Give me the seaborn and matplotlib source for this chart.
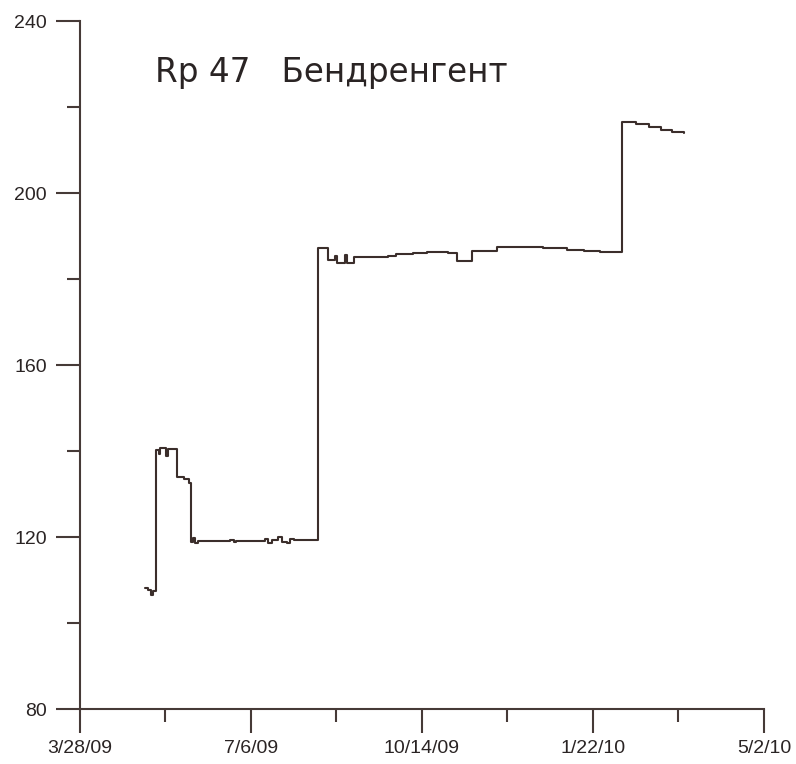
import matplotlib
matplotlib.use("Agg")
import matplotlib.pyplot as plt
import matplotlib.dates as mdates
import seaborn as sns
import pandas as pd
from matplotlib.ticker import FixedLocator

# ---- data ----
start_date = "2009-03-28"
day_offsets = [38, 40, 41.5, 42.5, 44.5, 46, 47, 50.5, 51.5, 57, 61, 64,
               65, 66, 67, 69, 88, 90, 91, 108, 110, 112, 116, 118, 121, 123, 125, 128,
               139, 145, 149, 150.5, 155, 156, 160, 180, 185, 195, 203, 215, 220.5,
               229, 233, 244, 271, 285, 295, 304,
               317, 325, 333, 340, 346, 353]
values = [108.2, 107.6, 106.6, 107.4, 140.2, 139.2, 140.6, 138.8, 140.4, 134.0, 133.4, 132.6,
          118.8, 119.8, 118.6, 119.0, 119.4, 118.8, 119.0, 119.6, 118.6, 119.2, 120.0, 118.8,
          118.6, 119.6, 119.2, 119.4,
          187.2, 184.4, 185.4, 183.8, 185.6, 183.8, 185.1, 185.3, 185.8, 186.0, 186.3, 186.1, 184.2,
          186.5, 186.6, 187.4, 187.2, 186.8, 186.5, 186.3,
          216.4, 216.0, 215.4, 214.7, 214.3, 214.0]
major_tick_offsets = [0, 100, 200, 300, 400]
minor_tick_offsets = [50, 150, 250, 350]
x_tick_labels = ["3/28/09", "7/6/09", "10/14/09", "1/22/10", "5/2/10"]
y_ticks = [80, 120, 160, 200, 240]
y_minor_ticks = [100, 140, 180, 220]
title_text = "Rp 47   Бендренгент"

base = pd.Timestamp(start_date)
df = pd.DataFrame({
    "date": base + pd.to_timedelta(day_offsets, unit="D"),
    "value": values,
})

sns.set_theme(style="ticks")
plt.rcParams["font.family"] = ["Liberation Sans", "DejaVu Sans"]

fig = plt.figure(figsize=(7.96, 7.64), dpi=100)
ax = fig.add_axes([80 / 796, 55 / 764, 684 / 796, 688 / 764])

line_color = "#3b2e2b"
sns.lineplot(data=df, x="date", y="value", ax=ax, estimator=None, sort=False,
             color=line_color, linewidth=1.5, drawstyle="steps-post")

ax.set_xlim(base, base + pd.Timedelta(days=400))
ax.set_ylim(80, 240)

major_dates = [mdates.date2num(base + pd.Timedelta(days=d)) for d in major_tick_offsets]
minor_dates = [mdates.date2num(base + pd.Timedelta(days=d)) for d in minor_tick_offsets]
ax.xaxis.set_major_locator(FixedLocator(major_dates))
ax.xaxis.set_minor_locator(FixedLocator(minor_dates))
ax.set_xticklabels(x_tick_labels)
ax.set_yticks(y_ticks)
ax.set_yticks(y_minor_ticks, minor=True)

ax.set_xlabel("")
ax.set_ylabel("")

spine_color = "#463a37"
for s in ["top", "right"]:
    ax.spines[s].set_visible(False)
for s in ["left", "bottom"]:
    ax.spines[s].set_color(spine_color)
    ax.spines[s].set_linewidth(1.5)

ax.tick_params(axis="both", which="major", length=17, width=1.5, color=spine_color,
               labelsize=14, labelcolor="#2a2424", direction="out")
ax.tick_params(axis="both", which="minor", length=9.5, width=1.5, color=spine_color,
               direction="out")
ax.tick_params(axis="x", which="major", pad=5)
ax.tick_params(axis="y", which="major", pad=7)

fig.text(155 / 796, 1 - 82 / 764, title_text, fontsize=23.5,
         color="#2a2424", family=["DejaVu Sans"], ha="left", va="baseline")

fig.savefig("out.png", dpi=100, facecolor="white")
